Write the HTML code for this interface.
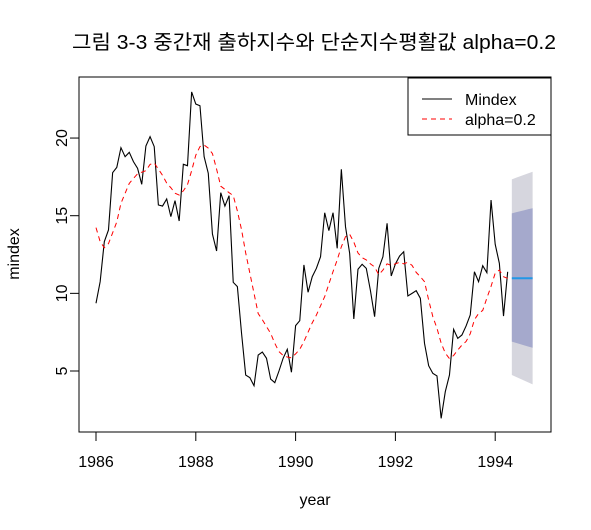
<!DOCTYPE html>
<html><head><meta charset="utf-8"><style>
html,body{margin:0;padding:0;background:#fff;}
svg{display:block;font-family:"Liberation Sans","Noto Sans CJK KR",sans-serif;}
</style></head><body>
<svg id="chart" width="591" height="530" viewBox="0 0 591 530" xmlns="http://www.w3.org/2000/svg">
<text x="72" y="49" font-size="20" textLength="484" lengthAdjust="spacingAndGlyphs" fill="#000">그림 3-3 중간재 출하지수와 단순지수평활값 alpha=0.2</text>
<g id="plot"></g>
<rect x="79" y="77" width="472" height="355" fill="none" stroke="#000" stroke-width="1"/>
<text x="315" y="505" font-size="16" text-anchor="middle">year</text>
<text transform="translate(19,254) rotate(-90)" font-size="16" text-anchor="middle">mindex</text>
<g>
<rect x="408" y="78" width="143" height="57" fill="#fff" stroke="#000"/>
<line x1="422" y1="99" x2="452" y2="99" stroke="#000" stroke-width="1"/>
<text x="465" y="105" font-size="16">Mindex</text>
<line x1="422" y1="119" x2="452" y2="119" stroke="#ff0000" stroke-width="1" stroke-dasharray="5,4"/>
<text x="465" y="125" font-size="16">alpha=0.2</text>
</g>
</svg>
<script>
const startYear = 1986;
const mindex = [9.36,10.75,13.33,14.08,17.77,18.11,19.38,18.80,19.08,18.48,18.05,17.02,19.49,20.09,19.45,15.69,15.62,16.08,14.94,15.97,14.66,18.31,18.22,22.97,22.19,22.08,18.80,17.73,13.82,12.73,16.48,15.62,16.29,10.71,10.43,7.43,4.74,4.57,4.05,6.03,6.22,5.82,4.48,4.25,5.0,5.82,6.40,4.92,7.92,8.24,11.83,10.07,11.07,11.61,12.36,15.19,14.04,15.19,12.90,17.99,14.29,12.58,8.35,11.55,11.87,11.61,10.17,8.50,11.61,12.36,14.51,11.12,11.89,12.40,12.68,9.83,10.00,10.17,9.68,6.78,5.34,4.85,4.68,1.95,3.67,4.74,7.68,7.10,7.32,7.90,8.61,11.39,10.75,11.78,11.33,16.01,13.16,11.93,8.54,11.39];
const smooth = [14.23,13.33,12.94,13.2,13.9,14.6,15.8,16.44,17.08,17.4,17.7,17.8,17.9,18.3,18.4,18.0,17.6,17.1,16.8,16.45,16.33,16.6,17.0,17.9,18.9,19.45,19.55,19.35,19.0,18.0,16.9,16.7,16.48,16.3,15.3,14.1,12.6,11.3,10.0,8.7,8.3,7.86,7.43,6.78,6.25,6.0,5.9,5.85,6.1,6.4,6.9,7.5,8.1,8.6,9.2,9.79,10.6,11.4,12.15,13.0,13.65,13.8,13.3,12.6,12.3,12.15,11.9,11.7,11.2,11.5,11.9,11.8,11.9,12.0,11.9,12.0,11.8,11.35,11.07,10.75,9.57,8.5,7.75,6.8,6.15,5.8,6.0,6.35,6.67,6.9,7.4,8.3,8.7,8.9,9.7,10.45,11.3,11.5,11.07,10.96];
const fcMean = [10.97,10.97,10.97,10.97,10.97,10.97];
const fcHi80 = [15.15,15.22,15.29,15.35,15.42,15.48];
const fcLo80 = [6.89,6.81,6.73,6.65,6.57,6.5];
const fcHi95 = [17.34,17.44,17.54,17.64,17.73,17.83];
const fcLo95 = [4.74,4.62,4.50,4.38,4.26,4.14];
const xTicks = [1986,1988,1990,1992,1994];
const yTicks = [5,10,15,20];

const NS="http://www.w3.org/2000/svg";
const g=document.getElementById('plot');
const X=t=>96+(t-1986)*49.9;
const Y=v=>371-(v-5)*15.53;
const tOf=i=>startYear+i/12;
function mk(tag,attrs){const e=document.createElementNS(NS,tag);for(const k in attrs)e.setAttribute(k,attrs[k]);g.appendChild(e);return e;}

const n=mindex.length;
function band(hi,lo,fill,name){
  let pts=[];
  for(let i=0;i<hi.length;i++)pts.push(X(tOf(n+i))+','+Y(hi[i]));
  for(let i=lo.length-1;i>=0;i--)pts.push(X(tOf(n+i))+','+Y(lo[i]));
  const p=mk('polygon',{points:pts.join(' '),fill:fill,stroke:'none'});
  
  
}
band(fcHi95,fcLo95,'#d6d6de','forecast-95-band');
band(fcHi80,fcLo80,'#a5a9cc','forecast-80-band');
const fm=mk('polyline',{points:fcMean.map((v,i)=>X(tOf(n+i))+','+Y(v)).join(' '),fill:'none',stroke:'#2297e6','stroke-width':2});



const l1=mk('polyline',{points:mindex.map((v,i)=>X(tOf(i))+','+Y(v)).join(' '),fill:'none',stroke:'#000','stroke-width':1.1});


const l2=mk('polyline',{points:smooth.map((v,i)=>X(tOf(i))+','+Y(v)).join(' '),fill:'none',stroke:'#ff0000','stroke-width':1,'stroke-dasharray':'5,4'});



xTicks.forEach(t=>{
  const tk=mk('line',{x1:X(t),x2:X(t),y1:432,y2:441,stroke:'#000'});
  
  
  const tx=mk('text',{x:X(t),y:467,'font-size':16,'text-anchor':'middle'});
  tx.textContent=t;
  
  
});
yTicks.forEach(v=>{
  const tk=mk('line',{x1:70,x2:79,y1:Y(v),y2:Y(v),stroke:'#000'});
  
  
  const tx=mk('text',{transform:'translate(67,'+Y(v)+') rotate(-90)','font-size':16,'text-anchor':'middle'});
  tx.textContent=v;
  
  
});
</script>
</body></html>
